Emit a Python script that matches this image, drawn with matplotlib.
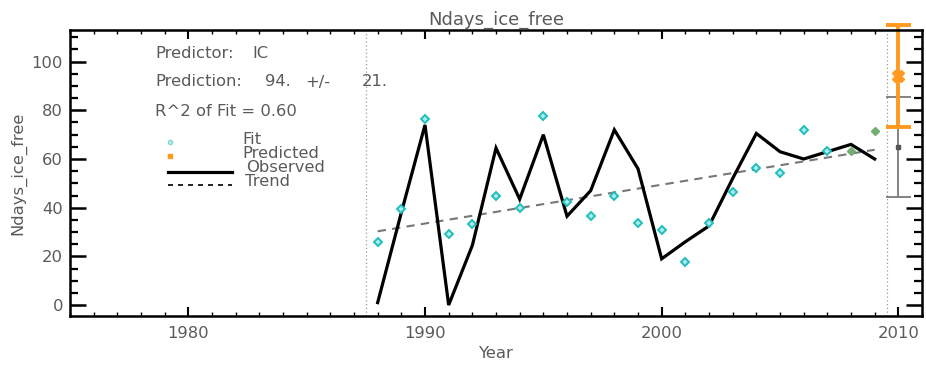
import matplotlib
matplotlib.use("Agg")
import matplotlib.pyplot as plt
from matplotlib.ticker import MultipleLocator

# ---- data ----
years = list(range(1988, 2010))
observed = [1, 38, 74, 0, 24.5, 64.5, 43.5, 70, 36.5, 47, 72, 56,
            19, 26, 32.5, 52, 70.5, 63, 60, 63, 66, 60]
fit_years = list(range(1988, 2008))
fit_values = [25.8, 39.4, 76.6, 29, 33.3, 44.6, 39.7, 77.6, 42.4, 36.5,
              44.6, 33.7, 30.9, 17.7, 33.7, 46.5, 56.2, 54.4, 72.1, 63.3]
late_years = [2008, 2009]
late_values = [63.3, 71.7]
trend_years = [1988, 2009]
trend_values = [30.3, 63.8]
pred_year = 2010
pred_value = 94
pred_err = 21
clim_value = 65
clim_err = 20.6
split_years = [1987.5, 2009.5]
r2 = 0.60
predictor = "IC"

TXT = "#5a5a5a"
CYAN = "#22bcbc"
ORANGE = "#ff9a1e"
GREEN = "#72ad72"
FS = 11.8

plt.rcParams["font.family"] = ["DejaVu Sans"]

fig = plt.figure(figsize=(9.26, 3.72), dpi=100)
ax = fig.add_axes([70 / 926, 1 - 316 / 372, 852 / 926, 286 / 372])

ax.set_xlim(1975, 2011)
ax.set_ylim(-4.5, 113)

for xv in split_years:
    ax.axvline(xv, color="#999999", lw=0.9, ls=(0, (1, 2)))

ax.plot(trend_years, trend_values, color="#777777", lw=1.5, ls=(0, (4, 3)))
ax.plot(years, observed, color="black", lw=2.3, solid_joinstyle="miter")
ax.plot(fit_years, fit_values, ls="none", marker="D", ms=4.2,
        mec=CYAN, mfc="#a8ecec", mew=1.4)
ax.plot(late_years, late_values, ls="none", marker="D", ms=4.2,
        mec=GREEN, mfc=GREEN, mew=1.0)

# climatology and prediction ranges
eb1 = ax.errorbar([pred_year], [clim_value], yerr=[clim_err], color="#7a7a7a",
                  lw=1.3, capsize=9, capthick=1.3, marker="s", ms=3,
                  mfc="#555555", mec="#555555")
eb2 = ax.errorbar([pred_year], [pred_value], yerr=[pred_err], color=ORANGE,
                  lw=2.8, capsize=9, capthick=2.8, marker="X", ms=8,
                  mfc=ORANGE, mec=ORANGE)
for eb in (eb1, eb2):
    for artist in eb.get_children():
        artist.set_clip_on(False)

# axes styling
for s in ax.spines.values():
    s.set_linewidth(1.8)
ax.xaxis.set_major_locator(MultipleLocator(10))
ax.xaxis.set_minor_locator(MultipleLocator(1))
ax.yaxis.set_major_locator(MultipleLocator(20))
ax.yaxis.set_minor_locator(MultipleLocator(5))
ax.tick_params(axis="x", which="major", direction="in", length=6.5, width=1.5,
               top=True, bottom=True, labelsize=FS, labelcolor=TXT, pad=7)
ax.tick_params(axis="x", which="minor", direction="in", length=3, width=1.0,
               top=True, bottom=True)
ax.tick_params(axis="y", which="major", direction="in", length=11.5, width=1.8,
               left=True, right=True, labelsize=FS, labelcolor=TXT, pad=5)
ax.tick_params(axis="y", which="minor", direction="in", length=6, width=1.6,
               left=True, right=True)

ax.set_title("Ndays_ice_free", color=TXT, fontsize=13, pad=4)
ax.set_xlabel("Year", color=TXT, fontsize=FS, labelpad=4)
ax.set_ylabel("Ndays_ice_free", color=TXT, fontsize=FS, labelpad=4)

# info block
def fx(px):
    return (px - 70) / 852

def fy(py):
    return (316 - py) / 286

tk = dict(transform=ax.transAxes, color=TXT, fontsize=FS, va="center")
ax.text(fx(155), fy(53), "Predictor:", **tk)
ax.text(fx(252), fy(53), predictor, **tk)
ax.text(fx(155), fy(82), "Prediction:", **tk)
ax.text(fx(265), fy(82), f"{pred_value:.0f}.", **tk)
ax.text(fx(305), fy(82), "+/-", **tk)
ax.text(fx(362), fy(82), f"{pred_err:.0f}.", **tk)
ax.text(fx(155), fy(111), f"R^2 of Fit = {r2:.2f}", **tk)

# key
ax.plot([fx(170)], [fy(142)], transform=ax.transAxes, marker="o", ms=3,
        mfc="#bdeeee", mec="#7fd6d6", ls="none", clip_on=False)
ax.plot([fx(170)], [fy(156)], transform=ax.transAxes, marker="s", ms=3,
        mfc=ORANGE, mec=ORANGE, ls="none", clip_on=False)
ax.plot([fx(168), fx(232)], [fy(172)] * 2, transform=ax.transAxes,
        color="black", lw=2.3)
ax.plot([fx(168), fx(232)], [fy(185)] * 2, transform=ax.transAxes,
        color="black", lw=1.2, ls=(0, (3, 3)))
ax.text(fx(242), fy(140), "Fit", **tk)
ax.text(fx(242), fy(154), "Predicted", **tk)
ax.text(fx(246), fy(168), "Observed", **tk)
ax.text(fx(245), fy(182), "Trend", **tk)

fig.savefig("out.png", dpi=100)
